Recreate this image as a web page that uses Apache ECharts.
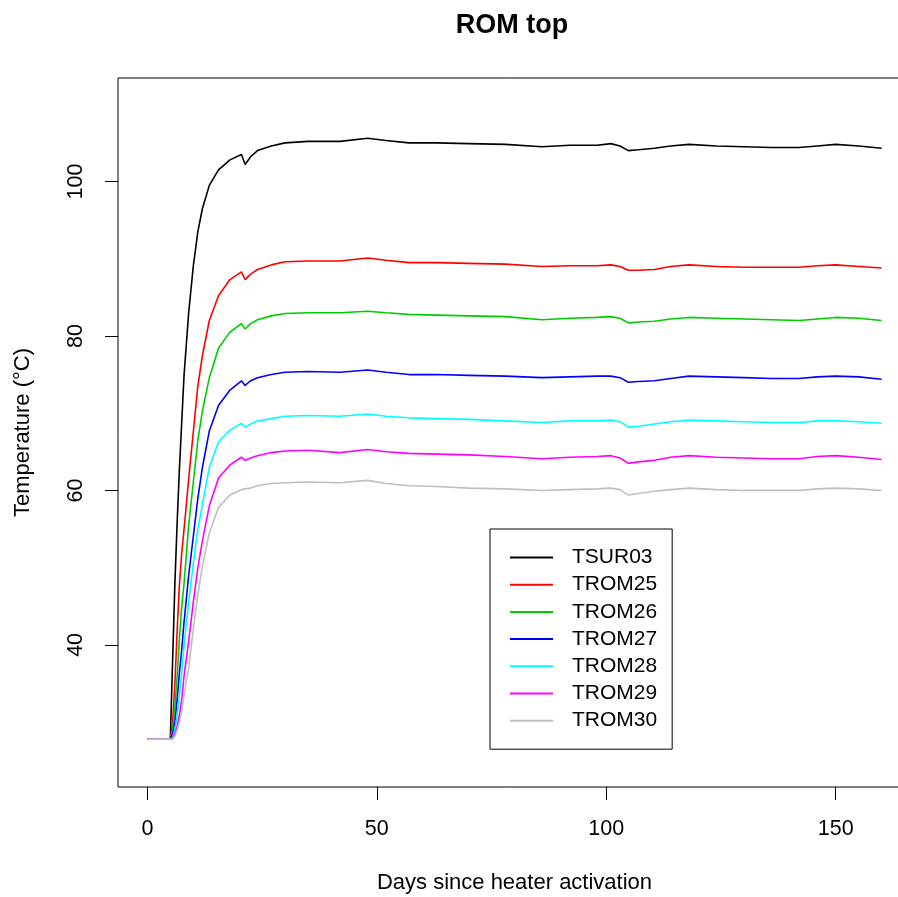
<!DOCTYPE html>
<html>
<head>
<meta charset="utf-8">
<script src="https://cdn.jsdelivr.net/npm/echarts@6/dist/echarts.min.js"></script>
<style>
  html, body { margin: 0; padding: 0; background: #fff; }
  #chart { width: 898px; height: 897px; }
</style>
</head>
<body>
<div id="chart"></div>
<script>
// days since heater activation (shared by all sensors)
var days = [0, 5, 5.5, 6, 6.5, 7, 7.5, 8, 9, 10, 11, 12, 13.5, 15.5, 18, 20.5, 21.3, 22.5, 24, 27, 30, 35, 42, 48, 52, 57, 63, 70, 78, 86, 92, 98, 101, 103, 104.8, 107, 110.5, 114, 118, 124, 130, 136, 142, 146, 150, 155, 160];

var tsur03 = [27.8, 27.8, 38, 48, 56, 63, 69, 75, 83, 89, 93.5, 96.5, 99.5, 101.5, 102.8, 103.5, 102.2, 103.2, 104, 104.6, 105, 105.2, 105.2, 105.6, 105.3, 105, 105, 104.9, 104.8, 104.5, 104.7, 104.7, 104.9, 104.6, 104.0, 104.1, 104.3, 104.6, 104.8, 104.6, 104.5, 104.4, 104.4, 104.6, 104.8, 104.6, 104.3];
var trom25 = [27.8, 27.8, 30, 35, 42, 48, 52, 55, 61.5, 67.5, 73.5, 77.5, 82, 85.2, 87.3, 88.3, 87.3, 88, 88.6, 89.2, 89.6, 89.7, 89.7, 90.1, 89.8, 89.5, 89.5, 89.4, 89.3, 89.0, 89.1, 89.1, 89.2, 89.0, 88.5, 88.5, 88.6, 89.0, 89.2, 89.0, 88.9, 88.9, 88.9, 89.1, 89.2, 89.0, 88.8];
var trom26 = [27.8, 27.8, 29, 32, 36, 41, 45, 48, 55.5, 61, 66.5, 70.3, 74.6, 78.4, 80.5, 81.6, 80.9, 81.6, 82.1, 82.6, 82.9, 83.0, 83.0, 83.2, 83.0, 82.8, 82.7, 82.6, 82.5, 82.1, 82.3, 82.4, 82.5, 82.3, 81.7, 81.8, 81.9, 82.2, 82.4, 82.3, 82.2, 82.1, 82.0, 82.2, 82.4, 82.3, 82.0];
var trom27 = [27.8, 27.8, 28.5, 30, 33, 36.5, 39.5, 43, 49, 54, 59, 63, 67.7, 71.0, 73.0, 74.2, 73.6, 74.2, 74.6, 75.0, 75.3, 75.4, 75.3, 75.6, 75.3, 75.0, 75.0, 74.9, 74.8, 74.6, 74.7, 74.8, 74.8, 74.6, 74.0, 74.1, 74.2, 74.5, 74.8, 74.7, 74.6, 74.5, 74.5, 74.7, 74.8, 74.7, 74.4];
var trom28 = [27.8, 27.8, 28, 29, 31, 33.5, 36.5, 40, 45.5, 50.5, 55, 58.2, 63, 66.3, 67.8, 68.7, 68.2, 68.6, 69.0, 69.3, 69.6, 69.7, 69.6, 69.9, 69.6, 69.4, 69.3, 69.2, 69.0, 68.8, 69.0, 69.0, 69.1, 68.9, 68.2, 68.3, 68.6, 68.9, 69.1, 69.0, 68.9, 68.8, 68.8, 69.0, 69.0, 68.9, 68.7];
var trom29 = [27.8, 27.8, 27.9, 28.5, 29.5, 31, 33, 36, 40.5, 45.5, 50, 53.5, 58, 61.6, 63.3, 64.3, 63.9, 64.2, 64.5, 64.9, 65.1, 65.2, 64.9, 65.3, 65.0, 64.8, 64.7, 64.6, 64.4, 64.1, 64.3, 64.4, 64.5, 64.2, 63.5, 63.7, 63.9, 64.3, 64.5, 64.3, 64.2, 64.1, 64.1, 64.4, 64.5, 64.3, 64.0];
var trom30 = [27.8, 27.8, 27.8, 28.2, 29, 30, 31.5, 33.5, 37, 42, 46.5, 50.2, 54.5, 57.8, 59.4, 60.1, 60.2, 60.3, 60.6, 60.9, 61.0, 61.1, 61.0, 61.3, 60.9, 60.6, 60.5, 60.3, 60.2, 60.0, 60.1, 60.2, 60.3, 60.1, 59.4, 59.6, 59.9, 60.1, 60.3, 60.1, 60.0, 60.0, 60.0, 60.2, 60.3, 60.2, 60.0];

var names = ["TSUR03", "TROM25", "TROM26", "TROM27", "TROM28", "TROM29", "TROM30"];
var colors = ["#000000", "#FF0000", "#00CD00", "#0000FF", "#00FFFF", "#FF00FF", "#BEBEBE"];
var values = [tsur03, trom25, trom26, trom27, trom28, trom29, trom30];

var xTicks = [0, 50, 100, 150];
var yTicks = [40, 60, 80, 100];

var font = "Liberation Sans, Arial, sans-serif";

var myChart = echarts.init(document.getElementById("chart"));

var series = names.map(function (n, i) {
  return {
    name: n,
    type: "line",
    showSymbol: false,
    color: colors[i],
    lineStyle: { width: 1.6 },
    data: days.map(function (d, k) {
      return [d, values[i][k]];
    }),
  };
});

var option = {
  animation: false,
  title: {
    text: "ROM top",
    left: 512,
    top: 12,
    padding: 0,
    textAlign: "center",
    textStyle: { fontFamily: font, fontSize: 27, fontWeight: "bold", color: "#000" },
  },
  grid: {
    left: 118,
    right: -13,
    top: 78,
    bottom: 110,
    outerBoundsMode: "none",
    containLabel: false,
    show: true,
    borderColor: "#000",
    borderWidth: 1,
  },
  legend: {
    orient: "vertical",
    left: 490,
    top: 529,
    data: names,
    icon: "rect",
    itemWidth: 43,
    itemHeight: 2,
    itemGap: 6.2,
    padding: [18, 15, 18, 20],
    borderColor: "#000",
    borderWidth: 1,
    backgroundColor: "#fff",
    textStyle: {
      fontFamily: font,
      fontSize: 21,
      lineHeight: 21,
      color: "#000",
      padding: [0, 0, 0, 14],
    },
  },
  xAxis: {
    type: "value",
    min: -6.4,
    max: 166.4,
    name: "Days since heater activation",
    nameLocation: "middle",
    nameGap: 85,
    nameMoveOverlap: false,
    nameTextStyle: { fontFamily: font, fontSize: 22, color: "#000" },
    axisLine: { show: false, onZero: false },
    axisTick: {
      show: true,
      customValues: xTicks,
      length: 13,
      lineStyle: { color: "#000" },
    },
    axisLabel: {
      customValues: xTicks,
      margin: 31,
      fontFamily: font,
      fontSize: 21.5,
      color: "#000",
    },
    splitLine: { show: false },
  },
  yAxis: {
    type: "value",
    min: 21.6,
    max: 113.4,
    name: "Temperature (°C)",
    nameLocation: "middle",
    nameGap: 84,
    nameMoveOverlap: false,
    nameTextStyle: { fontFamily: font, fontSize: 22, color: "#000" },
    axisLine: { show: false, onZero: false },
    axisTick: {
      show: true,
      customValues: yTicks,
      length: 13,
      lineStyle: { color: "#000" },
    },
    axisLabel: {
      customValues: yTicks,
      rotate: 90,
      margin: 31,
      fontFamily: font,
      fontSize: 21.5,
      color: "#000",
    },
    splitLine: { show: false },
  },
  series: series,
};

myChart.setOption(option);
</script>
</body>
</html>
